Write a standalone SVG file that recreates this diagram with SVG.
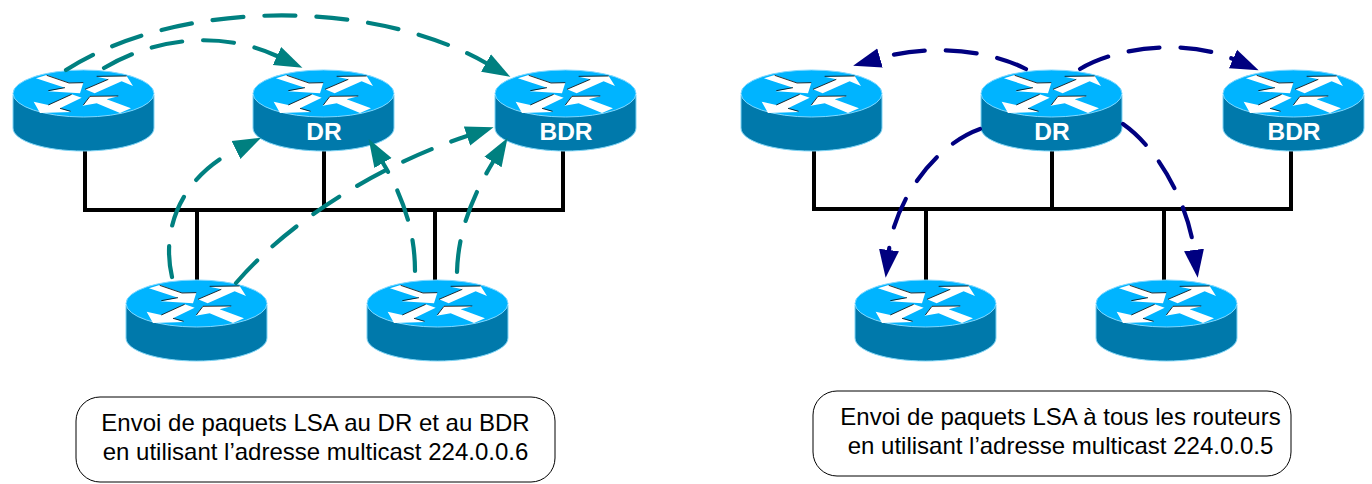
<svg xmlns="http://www.w3.org/2000/svg" width="1372" height="484" viewBox="0 0 1372 484">
<style>
text{font-family:"Liberation Sans",Arial,sans-serif}
.bus{fill:none;stroke:#000;stroke-width:4;stroke-linecap:square}
.teal{fill:none;stroke:#008080;stroke-width:4.2;stroke-linecap:round;stroke-dasharray:31 21;marker-end:url(#ah-teal)}
.navy{fill:none;stroke:#000080;stroke-width:4.2;stroke-linecap:round;stroke-dasharray:31 21;marker-end:url(#ah-navy)}
.lbl{fill:#fff;font-size:24.500px;font-weight:bold;text-anchor:middle}
.cap{fill:#000;font-size:24px;text-anchor:middle}
.box{fill:#fff;stroke:#000;stroke-width:1}
.a{fill:#fff}
.e{fill:none;stroke:#000;stroke-width:2.400}
</style>
<defs>
<marker id="ah-teal" markerUnits="userSpaceOnUse" markerWidth="30" markerHeight="24" refX="0" refY="11" orient="auto"><path d="M0 1L28 11L0 21Z" fill="#008080"/></marker>
<marker id="ah-navy" markerUnits="userSpaceOnUse" markerWidth="30" markerHeight="24" refX="0" refY="11" orient="auto"><path d="M0 1L28 11L0 21Z" fill="#000080"/></marker>
<g id="router">
<path d="M0 25V58C0 71 32 81 70.500 81S141 71 141 58V25Z" fill="#0079ab" stroke="#7fd4f5" stroke-width="1"/>
<ellipse cx="70.500" cy="23.500" rx="70.500" ry="23.500" fill="#00b4ff" stroke="#7fd8ff" stroke-width="1"/>
<g transform="translate(-13 -20) scale(.3333)">
<path class="a" d="M108 85L140 75L207 98L250 98L240 130L143 124L195 113Z"/>
<path class="a" d="M255 118L325 88L290 80L380 78L399 108L365 94L284 130Z"/>
<path class="a" d="M101 155L145 165L215 133L245 143L180 175L214 186L120 189Z"/>
<path class="a" d="M248 167L270 138L357 138L320 148L393 175L360 189L290 160Z"/>
<path class="e" d="M140 76L207 99L250 98M145 122L195 113M255 118L325 88M290 79L380 78M145 165L215 133M180 175L212 184M270 139L355 138M250 165L270 139"/>
</g>
</g>
</defs>
<g id="connectors">
<path class="bus" d="M85 152V210M324 152V210M563 152V210M85 210H563M197 210V280M435 210V280"/>
<path class="bus" d="M814 152V209M1052 152V209M1291 152V209M814 209H1291M926 209V280M1164 209V280"/>
</g>
<g id="r1"><use href="#router" x="13" y="70"/></g>
<g id="r2"><use href="#router" x="253" y="70"/><text class="lbl" x="324" y="140">DR</text></g>
<g id="r3"><use href="#router" x="495" y="70"/><text class="lbl" x="566" y="140">BDR</text></g>
<g id="r4"><use href="#router" x="126" y="280"/></g>
<g id="r5"><use href="#router" x="367" y="280"/></g>
<g id="r6"><use href="#router" x="741" y="70"/></g>
<g id="r7"><use href="#router" x="981" y="70"/><text class="lbl" x="1052" y="140">DR</text></g>
<g id="r8"><use href="#router" x="1223" y="70"/><text class="lbl" x="1294" y="140">BDR</text></g>
<g id="r9"><use href="#router" x="855" y="280"/></g>
<g id="r10"><use href="#router" x="1096" y="280"/></g>
<g id="arcs">
<path class="teal" d="M66 70C175 0 370 -3 486 63"/>
<path class="teal" d="M104 68C160 35 225 32 277 56"/>
<path class="teal" d="M172 277C160 225 185 175 236 150"/>
<path class="teal" d="M236 283C290 220 380 165 467 136"/>
<path class="teal" d="M415 271C415 235 405 200 383 163"/>
<path class="teal" d="M457 272C458 235 470 200 493 162"/>
<path class="navy" d="M1026 69C985 48 925 45 880 58"/>
<path class="navy" d="M1080 69C1120 45 1190 40 1233 59"/>
<path class="navy" d="M980 129C935 145 895 200 889 250"/>
<path class="navy" d="M1123 124C1160 150 1188 205 1194 250"/>
</g>
<g id="note-left"><rect class="box" x="76" y="397" width="479" height="85" rx="24"/><text class="cap" x="315.500" y="431">Envoi de paquets LSA au DR et au BDR</text><text class="cap" x="315.500" y="460">en utilisant l’adresse multicast 224.0.0.6</text></g>
<g id="note-right"><rect class="box" x="813" y="391" width="478" height="85" rx="24"/><text class="cap" x="1060.500" y="425">Envoi de paquets LSA à tous les routeurs</text><text class="cap" x="1060.500" y="454">en utilisant l’adresse multicast 224.0.0.5</text></g>
</svg>
